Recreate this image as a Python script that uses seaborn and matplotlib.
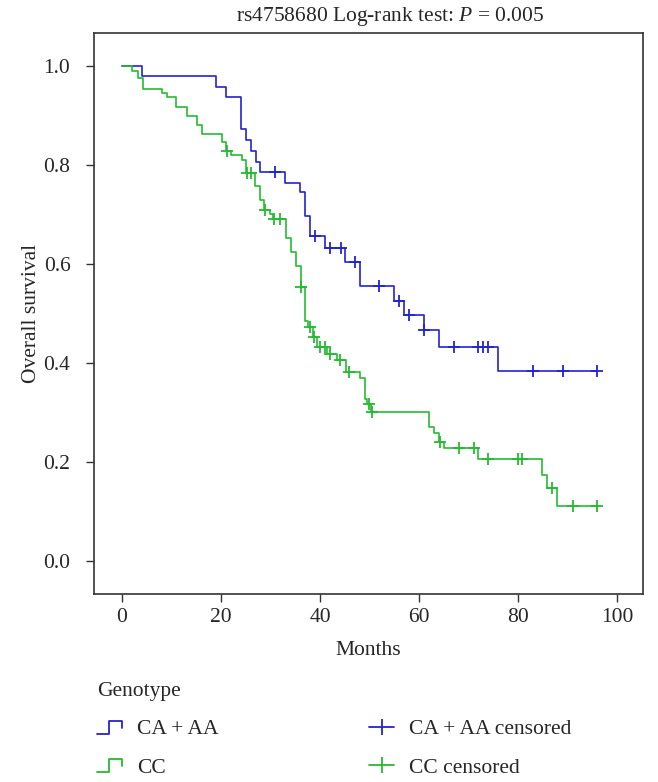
import numpy as np
import pandas as pd
import matplotlib
matplotlib.use("Agg")
import matplotlib.pyplot as plt
import seaborn as sns
from matplotlib.lines import Line2D
from matplotlib.legend_handler import HandlerBase

# ---- data ----
groups = ["CA + AA", "CC"]

ca_times = [0, 4, 19, 21, 24, 25, 26, 27, 28, 33, 36, 37, 38, 41, 45, 48, 55, 57, 61, 64, 76]
ca_surv = [1.0, 0.980, 0.957, 0.937, 0.873, 0.850, 0.829, 0.807, 0.786, 0.765, 0.745,
           0.698, 0.657, 0.632, 0.605, 0.556, 0.526, 0.498, 0.468, 0.433, 0.385]
ca_censor = [31, 39.1, 42.1, 44.2, 47.1, 52, 56, 58, 61.1, 67, 72, 73, 74, 83, 89, 96]

cc_times = [0, 2.0, 3.2, 4.2, 8.1, 9.1, 11.0, 13.2, 15.2, 16.2, 20.2, 21.0, 22.1, 24.2,
            25.1, 26.8, 27.9, 28.8, 29.9, 30.5, 33.1, 34.1, 35.1, 36.1, 37.0, 37.6,
            38.5, 39.5, 41.5, 43.5, 45.3, 48.1, 49.1, 49.5, 50.3, 62.0, 63.1, 64.1,
            65.0, 72.0, 84.8, 85.9, 87.8]
cc_surv = [1.0, 0.991, 0.977, 0.954, 0.946, 0.937, 0.917, 0.899, 0.882, 0.864, 0.846,
           0.829, 0.821, 0.810, 0.784, 0.757, 0.729, 0.710, 0.702, 0.692, 0.652, 0.625,
           0.596, 0.555, 0.485, 0.474, 0.453, 0.432, 0.419, 0.407, 0.383, 0.371, 0.327,
           0.318, 0.301, 0.272, 0.259, 0.241, 0.228, 0.206, 0.175, 0.148, 0.112]
cc_censor = [21.2, 25.2, 26.1, 28.9, 30.8, 31.9, 36.2, 37.9, 38.9, 40.1, 41.0, 42.0,
             44.1, 45.8, 49.8, 50.6, 64.2, 68.0, 71.0, 74.0, 80.0, 80.7, 86.9, 91.0, 96.0]

colors = {"CA + AA": "#2323d2", "CC": "#25bb32"}
title_txt = "rs4758680 Log-rank test: $P$ = 0.005"
legend_title = "Genotype"
x_ticks = [0, 20, 40, 60, 80, 100]
y_ticks = [0.0, 0.2, 0.4, 0.6, 0.8, 1.0]

# ---- build tables ----
curve_rows, cens_rows = [], []
for g, t, s, c in [("CA + AA", ca_times, ca_surv, ca_censor),
                   ("CC", cc_times, cc_surv, cc_censor)]:
    t_ext = list(t) + [max(c)]
    s_ext = list(s) + [s[-1]]
    curve_rows += [(g, a, b) for a, b in zip(t_ext, s_ext)]
    idx = np.searchsorted(np.array(t), np.array(c), side="right") - 1
    cens_rows += [(g, a, s[i]) for a, i in zip(c, idx)]
curves = pd.DataFrame(curve_rows, columns=["group", "time", "surv"])
cens = pd.DataFrame(cens_rows, columns=["group", "time", "surv"])

# ---- style ----
sns.set_style("ticks")
plt.rcParams["font.family"] = ["Liberation Serif", "DejaVu Serif"]
plt.rcParams["mathtext.fontset"] = "custom"
plt.rcParams["mathtext.it"] = "Liberation Serif:italic"
plt.rcParams["mathtext.rm"] = "Liberation Serif"

FS = 15.5
fig = plt.figure(figsize=(6.58, 7.82), dpi=100)
ax = fig.add_axes([94 / 658, 1 - 594 / 782, (643 - 94) / 658, (594 - 33) / 782])

for g in groups:
    sub = curves[curves.group == g]
    sns.lineplot(data=sub, x="time", y="surv", ax=ax, color=colors[g],
                 drawstyle="steps-post", estimator=None, sort=False,
                 linewidth=1.2, legend=False)
    csub = cens[cens.group == g]
    ax.plot(csub["time"], csub["surv"], linestyle="none", marker="+",
            markersize=9, markeredgewidth=1.3, color=colors[g])

ax.set_xlim(-5.6, 105.2)
ax.set_ylim(-0.066, 1.067)
ax.set_xticks(x_ticks)
ax.set_yticks(y_ticks)
ax.set_yticklabels([f"{v:.1f}" for v in y_ticks])
ax.tick_params(labelsize=FS, length=6, width=1, color="#333333")
ax.tick_params(axis="x", pad=4)
ax.tick_params(axis="y", pad=11)
for sp in ax.spines.values():
    sp.set_color("#333333")
    sp.set_linewidth(1.2)
ax.set_xlabel("Months", fontsize=FS, labelpad=10)
ax.set_ylabel("Overall survival", fontsize=FS, labelpad=2)
fig.text(390 / 658, 1 - 17 / 782, title_txt, fontsize=FS, ha="center", va="center")


class StepHandler(HandlerBase):
    def create_artists(self, legend, orig_handle, xdescent, ydescent, width,
                       height, fontsize, trans):
        x0, y0 = -xdescent, -ydescent
        xs = [x0, x0 + 0.5 * width, x0 + 0.5 * width, x0 + width, x0 + width]
        ys = [y0 + 0.05 * height, y0 + 0.05 * height, y0 + 0.9 * height,
              y0 + 0.9 * height, y0 + 0.45 * height]
        ln = Line2D(xs, ys, color=orig_handle.get_color(), linewidth=1.3,
                    transform=trans)
        return [ln]


h_lines = [Line2D([], [], color=colors[g]) for g in groups]
h_cens = [Line2D([], [], color=colors[g], marker="|", markersize=11,
                 markeredgewidth=1.3, linewidth=1.3) for g in groups]
handles = h_lines + h_cens
labels = groups + [f"{g} censored" for g in groups]
leg = fig.legend(handles, labels, title=legend_title, loc="upper left",
                 bbox_to_anchor=(97 / 658, 1 - 682 / 782), ncol=2, frameon=False,
                 fontsize=FS, title_fontsize=FS, alignment="left", borderpad=0,
                 borderaxespad=0,
                 handlelength=1.16, handletextpad=0.7, columnspacing=7.0,
                 labelspacing=0.85,
                 handler_map={h: StepHandler() for h in h_lines})

fig.savefig("out.png", dpi=100)
